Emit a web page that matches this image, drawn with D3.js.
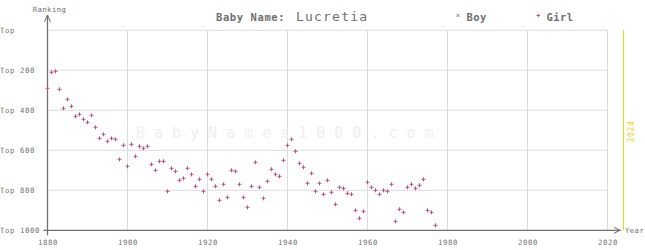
<!DOCTYPE html>
<html><head><meta charset="utf-8">
<script src="https://cdn.jsdelivr.net/npm/d3@7"></script>
<style>
html,body{margin:0;padding:0;background:#fff;}
svg{display:block;font-family:"DejaVu Sans Mono",monospace;}
</style></head>
<body><svg id="c" width="645" height="250"></svg>
<script>
const title = "Baby Name:";
const babyName = "Lucretia";
const seriesNames = ["Boy", "Girl"];
const xTicks = [1880, 1900, 1920, 1940, 1960, 1980, 2000, 2020];
const yTicks = [0, 200, 400, 600, 800, 1000];
const yTickLabels = ["Top", "Top 200", "Top 400", "Top 600", "Top 800", "Top 1000"];
const currentYear = 2024;
const girlYears = [1880,1881,1882,1883,1884,1885,1886,1887,1888,1889,
  1890,1891,1892,1893,1894,1895,1896,1897,1898,1899,
  1900,1901,1902,1903,1904,1905,1906,1907,1908,1909,
  1910,1911,1912,1913,1914,1915,1916,1917,1918,1919,
  1920,1921,1922,1923,1924,1925,1926,1927,1928,1929,
  1930,1931,1932,1933,1934,1935,1936,1937,1938,1939,
  1940,1941,1942,1943,1944,1945,1946,1947,1948,1949,
  1950,1951,1952,1953,1954,1955,1956,1957,1958,1959,
  1960,1961,1962,1963,1964,1965,1966,1967,1968,1969,
  1970,1971,1972,1973,1974,1975,1976,1977];
const girlRanks = [290,210,205,295,390,345,380,430,420,445,
  460,425,485,540,520,555,540,545,645,575,
  680,570,630,580,590,580,670,700,655,655,
  805,690,705,750,740,690,720,780,745,805,
  720,745,780,850,770,835,700,705,770,835,
  885,780,660,785,840,755,695,720,730,650,
  575,545,605,665,685,765,715,805,765,820,
  750,810,870,785,790,815,820,900,940,905,
  760,785,800,820,800,805,770,955,895,910,
  785,770,790,775,745,900,910,975];

const GIRL = "#c4507e", BOY = "#8a8aa8", AXIS = "#707070", GRID = "#dcdcdc", TXT = "#707070";
const svg = d3.select("#c");
const x = d3.scaleLinear().domain([1880, 2020]).range([47.5, 607.5]);
const y = d3.scaleLinear().domain([0, 1000]).range([30.3, 230.3]);

// grid
svg.append("g").selectAll("line.v").data(xTicks.slice(1)).join("line")
  .attr("x1", d => x(d)).attr("x2", d => x(d)).attr("y1", y(0)).attr("y2", y(1000))
  .attr("stroke", GRID).attr("stroke-width", 1);
svg.append("g").selectAll("line.h").data(yTicks.slice(0, -1)).join("line")
  .attr("x1", x(1880)).attr("x2", x(2020)).attr("y1", d => y(d)).attr("y2", d => y(d))
  .attr("stroke", GRID).attr("stroke-width", 1);

// watermark
svg.append("text").attr("x", 136).attr("y", 137.5)
  .attr("font-size", 15).attr("letter-spacing", 9).attr("fill", "#efefef")
  .text("BabyNames1000.com");

// current year line
svg.append("line").attr("x1", x(currentYear)).attr("x2", x(currentYear))
  .attr("y1", y(0)).attr("y2", y(1000)).attr("stroke", "#f2d21c").attr("stroke-width", 1);
svg.append("text").attr("transform", `translate(${x(currentYear) + 10},131.5) rotate(-90)`)
  .attr("text-anchor", "middle").attr("font-size", 8).attr("letter-spacing", 0.6)
  .attr("fill", "#f2d21c").text(currentYear);

// x axis
const xAxis = svg.append("g").attr("transform", `translate(0,${y(1000)})`)
  .call(d3.axisBottom(x).tickValues(xTicks).tickSize(0).tickPadding(10).tickFormat(d3.format("d")));
xAxis.select(".domain").remove();
xAxis.selectAll("text").attr("font-family", "DejaVu Sans Mono").attr("font-size", 7.3)
  .attr("letter-spacing", 0.6).attr("fill", TXT);
// y axis
const yAxis = svg.append("g").attr("transform", `translate(${x(1880)},0)`)
  .call(d3.axisLeft(y).tickValues(yTicks).tickSize(0).tickFormat((d, i) => yTickLabels[i]));
yAxis.select(".domain").remove();
yAxis.selectAll("text").attr("font-family", "DejaVu Sans Mono").attr("font-size", 7.3)
  .attr("letter-spacing", 0.6).attr("fill", TXT)
  .attr("text-anchor", "start").attr("x", -x(1880)).attr("dy", "0.3em");

// axis lines with arrows
const ax = svg.append("g").attr("stroke", AXIS).attr("fill", "none").attr("stroke-width", 1.3);
ax.append("line").attr("x1", x(1880)).attr("x2", x(1880)).attr("y1", 15).attr("y2", y(1000) + 5);
ax.append("path").attr("d", `M${x(1880) - 3},22L${x(1880)},15L${x(1880) + 3},22`).attr("stroke-width", 1);
ax.append("line").attr("x1", x(1880) - 4).attr("x2", 621).attr("y1", y(1000)).attr("y2", y(1000));
ax.append("path").attr("d", `M614,${y(1000) - 3}L620,${y(1000)}L614,${y(1000) + 3}`).attr("stroke-width", 1);

svg.append("text").attr("x", 49.5).attr("y", 11.5).attr("text-anchor", "middle")
  .attr("font-size", 7.3).attr("letter-spacing", 0.4).attr("fill", TXT).text("Ranking");
svg.append("text").attr("x", 625).attr("y", 232.5).attr("font-size", 7.3)
  .attr("letter-spacing", 0.4).attr("fill", TXT).text("Year");

// title
svg.append("text").attr("x", 216).attr("y", 20.7).attr("font-size", 10.5).attr("font-weight", "bold")
  .attr("letter-spacing", 0.6).attr("fill", TXT).text(title);
svg.append("text").attr("x", 296).attr("y", 20.7).attr("font-size", 13).attr("letter-spacing", 1.2)
  .attr("fill", TXT).text(babyName);

// legend
const lg = svg.append("g");
lg.append("path").attr("d", "M456.5,14L459.5,17M459.5,14L456.5,17").attr("stroke", BOY).attr("stroke-width", 1);
lg.append("text").attr("x", 466.5).attr("y", 20.5).attr("font-size", 10.5).attr("font-weight", "bold")
  .attr("letter-spacing", 0.4).attr("fill", TXT).text(seriesNames[0]);
lg.append("path").attr("d", "M536.5,15.5H540M538.25,13.7V17.3").attr("stroke", GIRL).attr("stroke-width", 1);
lg.append("text").attr("x", 546.5).attr("y", 20.5).attr("font-size", 10.5).attr("font-weight", "bold")
  .attr("letter-spacing", 0.4).attr("fill", TXT).text(seriesNames[1]);

// girl points
svg.append("g").selectAll("path").data(girlYears.map((yr, i) => [yr, girlRanks[i]])).join("path")
  .attr("d", d => { const cx = x(d[0]), cy = y(d[1]); return `M${cx - 2},${cy}H${cx + 2}M${cx},${cy - 2}V${cy + 2}`; })
  .attr("stroke", GIRL).attr("stroke-width", 1).attr("fill", "none");
</script></body></html>
